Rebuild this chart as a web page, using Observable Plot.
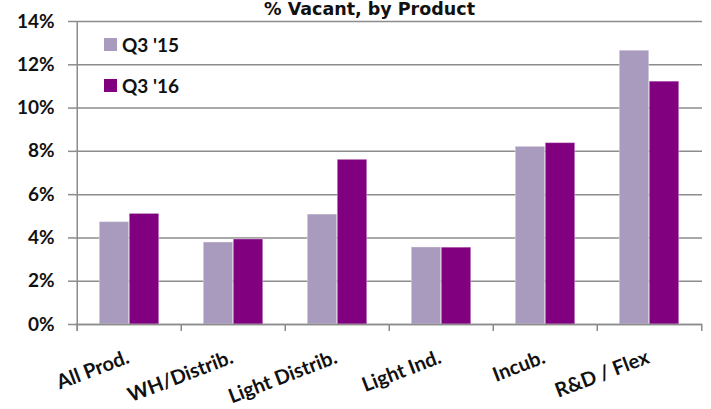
<!DOCTYPE html>
<html>
<head>
<meta charset="utf-8">
<script src="https://cdn.jsdelivr.net/npm/d3@7"></script>
<script src="https://cdn.jsdelivr.net/npm/@observablehq/plot@0.6"></script>
<style>
  html, body { margin: 0; padding: 0; background: #fff; }
  #wrap { position: relative; width: 711px; height: 409px; overflow: hidden; }
  #title { position: absolute; left: 369.5px; top: 1px; transform: translateX(-50%);
    font-family: "DejaVu Sans", sans-serif; font-weight: bold; font-size: 17.5px; line-height: 1;
    color: #111; white-space: nowrap; }
  .leg { position: absolute; left: 104px; font-family: Lato, sans-serif; font-weight: bold;
    font-size: 19px; line-height: 1; color: #111; white-space: nowrap; }
  .leg .sw { position: absolute; left: 0; width: 13px; height: 13px; }
  .leg .lab { position: absolute; left: 18px; top: 0; }
</style>
</head>
<body>
<div id="wrap">
  <div id="chart"></div>
  <div id="title">% Vacant, by Product</div>
  <div id="legend"></div>
</div>
<script>
const categories = ["All Prod.", "WH/Distrib.", "Light Distrib.", "Light Ind.", "Incub.", "R&D / Flex"];
const seriesNames = ["Q3 '15", "Q3 '16"];
const q3_15 = [4.73, 3.79, 5.08, 3.56, 8.21, 12.65];
const q3_16 = [5.11, 3.93, 7.61, 3.55, 8.38, 11.22];
const yTicks = [0, 2, 4, 6, 8, 10, 12, 14];
const colors = ["#a99bbd", "#800080"];

const W = 711, H = 409, mL = 75, mR = 9, mT = 21, mB = 85;
const gray = "#8c8c8c";
const step = (W - mL - mR) / categories.length;
const barW = step * 0.287;
const groupPad = (step - 2 * barW) / 2;

const data15 = categories.map((c, i) => ({category: c, series: seriesNames[0], value: q3_15[i]}));
const data16 = categories.map((c, i) => ({category: c, series: seriesNames[1], value: q3_16[i]}));

const chart = Plot.plot({
  width: W, height: H,
  marginLeft: mL, marginRight: mR, marginTop: mT, marginBottom: mB,
  style: {fontFamily: "Lato, sans-serif", background: "#fff", overflow: "visible"},
  x: {domain: categories, padding: 0, axis: null},
  y: {domain: [0, 14], ticks: yTicks, axis: null, label: null},
  color: {domain: seriesNames, range: colors},
  marks: [
    Plot.gridY(yTicks, {stroke: gray, strokeOpacity: 1, strokeWidth: 1.5}),
    Plot.barY(data15, {x: "category", y: "value", fill: "series",
      insetLeft: groupPad, insetRight: step - groupPad - barW, stroke: "#fff", strokeOpacity: 0.35}),
    Plot.barY(data16, {x: "category", y: "value", fill: "series",
      insetLeft: groupPad + barW, insetRight: groupPad, stroke: "#fff", strokeOpacity: 0.35}),
    Plot.ruleY([0], {stroke: gray, strokeWidth: 1.5}),
    Plot.ruleX(categories, {x: d => d, y1: 0, y2: 0, insetBottom: -7, dx: -step / 2, stroke: gray, strokeWidth: 1.5}),
    Plot.ruleX([categories[categories.length - 1]], {x: d => d, y1: 0, y2: 0, insetBottom: -7, dx: step / 2, stroke: gray, strokeWidth: 1.5}),
    Plot.ruleX([categories[0]], {x: d => d, y1: 14, y2: 0, insetBottom: -7, dx: -step / 2, stroke: gray, strokeWidth: 1.5}),
    Plot.axisY(yTicks, {tickFormat: () => "", tickSize: 7, label: null, stroke: gray, strokeWidth: 1.5}),
    Plot.text(yTicks, {y: d => d, text: d => d + "%", frameAnchor: "left", dx: -21, textAnchor: "end",
      fontSize: 19, fontWeight: "bold", fill: "#111"}),
    Plot.text(categories, {x: d => d, frameAnchor: "bottom", dy: 38, dx: 1, rotate: -21, textAnchor: "end",
      fontSize: 20, fontWeight: "bold", fill: "#111"})
  ]
});
document.getElementById("chart").appendChild(chart);

const legend = document.getElementById("legend");
seriesNames.forEach((s, i) => {
  const row = document.createElement("div");
  row.className = "leg";
  row.style.top = (35 + i * 41) + "px";
  const sw = document.createElement("div");
  sw.className = "sw";
  sw.style.background = colors[i];
  sw.style.top = "3px";
  const lab = document.createElement("div");
  lab.className = "lab";
  lab.textContent = s;
  row.appendChild(sw);
  row.appendChild(lab);
  legend.appendChild(row);
});
</script>
</body>
</html>
